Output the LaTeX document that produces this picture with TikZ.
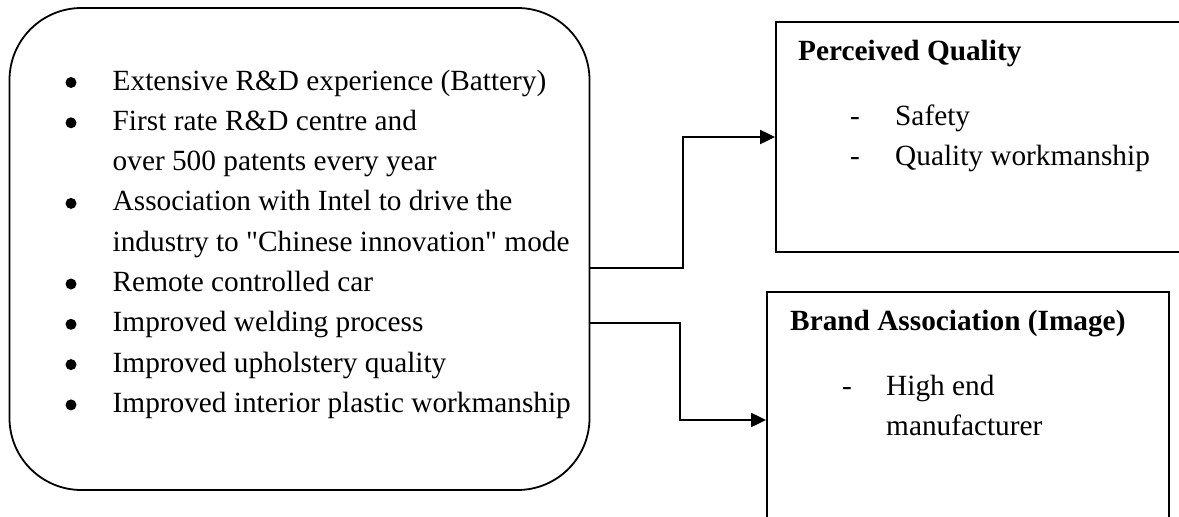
\documentclass[tikz,border=0pt]{standalone}
\usepackage{fontspec}
\setmainfont{Liberation Serif}[Ligatures=TeXOff]
\usetikzlibrary{arrows.meta}
\begin{document}
\begin{tikzpicture}[x=1pt,y=-1pt,
  txt/.style={anchor=base west,inner sep=0pt,font=\fontsize{29.3}{40}\selectfont},
  ttl/.style={txt,font=\fontsize{29.3}{40}\selectfont\bfseries},
  dot/.style={circle,fill=black,inner sep=0pt,minimum size=11pt},
  box/.style={draw=black,line width=1.8pt,inner sep=0pt},
  conn/.style={line width=2pt,-{Triangle[length=15pt,width=14pt]}}]
\useasboundingbox (0,0) rectangle (1179,517);
\clip (0,0) rectangle (1179,517);
% left rounded box
\node[box,rounded corners=72pt,minimum width=580pt,minimum height=482pt] (src) at (299.5,249) {};
% bullets and text
\foreach \i/\y in {1/90,2/130.3,4/210.9,6/291.5,7/331.8,8/372.1,9/412.4}{
  \node[dot] (b\i) at (71,\y-7.5) {};
}
\node[txt] (l1) at (112.5,90) {Extensive R\&D experience (Battery)};
\node[txt] (l2) at (112.5,130.3) {First rate R\&D centre and};
\node[txt] (l3) at (112.5,170.6) {over 500 patents every year};
\node[txt] (l4) at (112.5,210.9) {Association with Intel to drive the};
\node[txt] (l5) at (112.5,251.2) {industry to "Chinese innovation" mode};
\node[txt] (l6) at (112.5,291.5) {Remote controlled car};
\node[txt] (l7) at (112.5,331.8) {Improved welding process};
\node[txt] (l8) at (112.5,372.1) {Improved upholstery quality};
\node[txt] (l9) at (112.5,412.4) {Improved interior plastic workmanship};
% Perceived Quality box
\node[box,minimum width=430pt,minimum height=230pt] (pq) at (991,137) {};
\node[ttl] (pqt) at (798,60) {Perceived Quality};
\node[txt] (pqd1) at (850,125) {-};
\node[txt] (pq1) at (895,125) {Safety};
\node[txt] (pqd2) at (850,165) {-};
\node[txt] (pq2) at (895,165) {Quality workmanship};
% Brand Association box
\node[box,minimum width=402pt,minimum height=256pt] (ba) at (968,420) {};
\node[ttl] (bat) at (790,330) {Brand Association (Image)};
\node[txt] (bad1) at (842,395) {-};
\node[txt] (ba1) at (886,395) {High end};
\node[txt] (ba2) at (886,435) {manufacturer};
% connectors
\coordinate (k1) at (683,268);
\coordinate (k3) at (680,323);
\draw[conn] (src.east |- k1) -- (k1) |- (pq.west);
\draw[conn] (src.east |- k3) -- (k3) |- (ba.west);
\end{tikzpicture}
\end{document}
